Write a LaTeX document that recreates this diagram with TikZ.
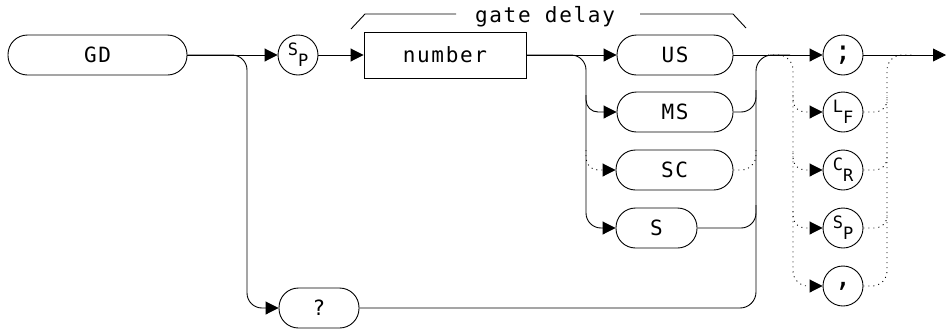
\documentclass[tikz,border=0pt]{standalone}
\usepackage{fontspec}
\setmainfont{DejaVu Sans Mono}[LetterSpace=8]
\usetikzlibrary{arrows.meta}
\begin{document}
\begin{tikzpicture}[x=1pt,y=-1pt, line width=0.9pt,
  tip/.style={-{Triangle[length=13pt,width=13pt]}},
  lbl/.style={font=\fontsize{21}{23}\selectfont},
  pill/.style={draw, rounded corners=19.5pt, minimum height=40pt, inner sep=0pt, lbl},
  numbox/.style={draw, minimum height=46pt, minimum width=162pt, inner sep=0pt, lbl},
  circ/.style={draw, circle, minimum size=40pt, inner sep=0pt, font=\fontsize{17}{19}\selectfont},
  dot/.style={dash pattern=on 1pt off 4pt}]
\useasboundingbox (0,0) rectangle (946,330);
% nodes
\node[pill, minimum width=179pt] (gd) at (97.5,55) {GD};
\node[circ] (sp1) at (298,55) {\raisebox{5pt}{S}\raisebox{-6pt}{P}};
\node[numbox] (num) at (445,55) {number};
\node[pill, minimum width=116pt] (us) at (675,55) {US};
\node[pill, minimum width=116pt] (ms) at (675,112) {MS};
\node[pill, minimum width=117pt] (sc) at (674.5,170) {SC};
\node[pill, minimum width=81pt] (s) at (656.5,228) {S};
\node[pill, minimum width=80pt] (q) at (319,308) {?};
\node[circ, font=\fontsize{28}{30}\selectfont] (semi) at (843,55) {;};
\node[circ] (lf) at (843,112) {\raisebox{5pt}{L}\raisebox{-6pt}{F}};
\node[circ] (cr) at (843,170) {\raisebox{5pt}{C}\raisebox{-6pt}{R}};
\node[circ] (sp2) at (843,228) {\raisebox{5pt}{S}\raisebox{-6pt}{P}};
\node[circ, font=\fontsize{28}{30}\selectfont] (comma) at (843,286) {,};
\node[lbl] (gdl) at (545,17) {gate delay};
\coordinate (out) at (946,55);
% gate delay bracket
\draw (351,29) -- (365,14) -- (456,14);
\draw (640,14) -- (733,14) -- (746,28);
% left part
\draw[tip] (gd.east) -- (sp1.west);
\draw[tip, rounded corners=15pt] (gd.east) -| (247,308) -- (q.west);
\draw[tip] (sp1.east) -- (num.west);
\draw[tip] (num.east) -- (us.west);
\draw[tip, rounded corners=15pt] (num.east) -| (586,228) -- (s.west);
\draw[tip, rounded corners=12pt] (586,95) |- (ms.west);
\draw[tip, dot, rounded corners=12pt] (586,150) |- (sc.west);
% right join
\draw[tip] (us.east) -- (semi.west);
\draw[rounded corners=16pt] (q.east) -| (756,55) -- (790,55);
\draw[rounded corners=15pt] (s.east) -| (756,205);
\draw[rounded corners=15pt] (ms.east) -| (756,90);
\draw[dot, rounded corners=15pt] (sc.east) -| (756,150);
% terminators
\draw[tip] (semi.east) -- (out);
\draw[dot, tip, rounded corners=15pt] (768,55) -| (793,286) -- (comma.west);
\draw[dot, tip, rounded corners=12pt] (793,95) |- (lf.west);
\draw[dot, tip, rounded corners=12pt] (793,153) |- (cr.west);
\draw[dot, tip, rounded corners=12pt] (793,211) |- (sp2.west);
\draw[dot, rounded corners=15pt] (comma.east) -| (887,55) -- (912,55);
\draw[dot, rounded corners=12pt] (lf.east) -| (887,95);
\draw[dot, rounded corners=12pt] (cr.east) -| (887,153);
\draw[dot, rounded corners=12pt] (sp2.east) -| (887,211);
\end{tikzpicture}
\end{document}
